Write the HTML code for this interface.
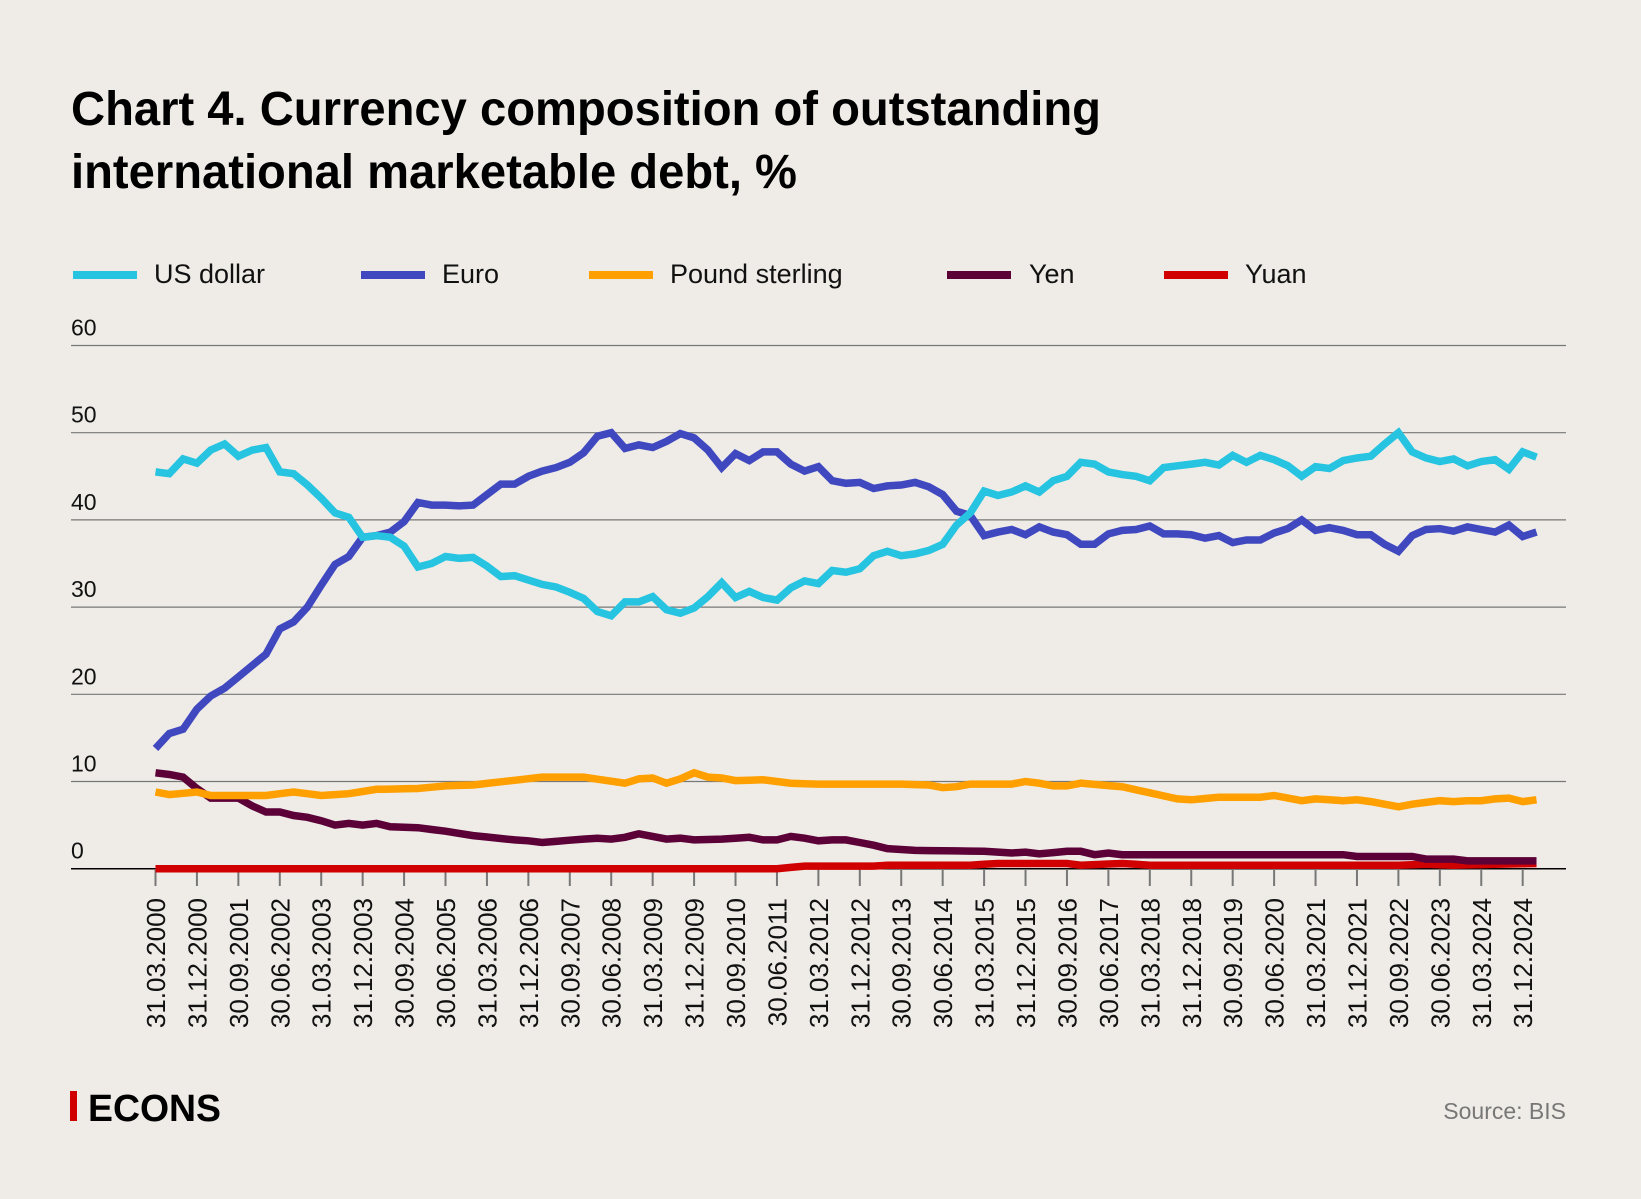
<!DOCTYPE html>
<html><head><meta charset="utf-8">
<style>
html,body{margin:0;padding:0;background:#efece7;}
svg{display:block;font-family:"Liberation Sans",sans-serif;}
</style></head>
<body>
<svg id="c" width="1641" height="1199" viewBox="0 0 1641 1199" xmlns="http://www.w3.org/2000/svg">
<rect width="1641" height="1199" fill="#efece7"/>
<text x="71" y="125" font-size="48" font-weight="bold" fill="#000" textLength="1030" lengthAdjust="spacingAndGlyphs">Chart 4. Currency composition of outstanding</text>
<text x="71" y="188" font-size="48" font-weight="bold" fill="#000" textLength="726" lengthAdjust="spacingAndGlyphs">international marketable debt, %</text>
<g font-size="27" fill="#111">
<rect x="73" y="271" width="64" height="8" fill="#26c4e0"/><text x="154" y="268" dy="15">US dollar</text>
<rect x="361" y="271" width="64" height="8" fill="#4048c0"/><text x="442" y="268" dy="15">Euro</text>
<rect x="589" y="271" width="64" height="8" fill="#ff9f00"/><text x="670" y="268" dy="15">Pound sterling</text>
<rect x="947" y="271" width="64" height="8" fill="#5c0038"/><text x="1029" y="268" dy="15">Yen</text>
<rect x="1164" y="271" width="64" height="8" fill="#d00000"/><text x="1245" y="268" dy="15">Yuan</text>
</g>
<g id="grid"></g>
<g id="series"></g>
<text x="1566" y="1119" font-size="23" fill="#777" text-anchor="end">Source: BIS</text>
<rect x="70" y="1091" width="7" height="30" fill="#d00000"/>
<text x="88" y="1121" font-size="38" font-weight="bold" fill="#000" textLength="133" lengthAdjust="spacingAndGlyphs">ECONS</text>
</svg>
<script>
var NS="http://www.w3.org/2000/svg";
function el(t,a,p,txt){var e=document.createElementNS(NS,t);for(var k in a)e.setAttribute(k,a[k]);if(txt!=null)e.textContent=txt;p.appendChild(e);return e;}
var g=document.getElementById('grid'),s=document.getElementById('series');
var y0=868.7,ys=8.72,x0=155.5,xs=13.81;
function X(i){return x0+i*xs;}function Y(v){return y0-v*ys;}
for(var v=0;v<=60;v+=10){
 el('line',{x1:71,x2:1566,y1:Y(v),y2:Y(v),stroke:v==0?'#000':'#777','stroke-width':v==0?1.5:1.2},g);
 el('text',{x:71,y:Y(v)-10,'font-size':23,fill:'#111'},g,String(v));
}
for(var t=0;t<34;t++){
 var i=t*3;var qq=i%4;var yy=2000+Math.floor(i/4);
 var d=["31.03.","30.06.","30.09.","31.12."][qq]+yy;
 var x=X(i);
 el('line',{x1:x,x2:x,y1:869,y2:886,stroke:'#777','stroke-width':2},g);
 el('text',{x:0,y:0,'font-size':26,fill:'#111','text-anchor':'end',transform:'translate('+(x+9.5)+',898) rotate(-90)'},g,d);
}
var usd=[45.5,45.3,47,46.5,48,48.7,47.3,48,48.3,45.5,45.3,44,42.5,40.8,40.3,38,38.2,38,37,34.6,35,35.8,35.6,35.7,34.7,33.5,33.6,33.1,32.6,32.3,31.7,31,29.5,29,30.6,30.6,31.2,29.7,29.3,29.9,31.2,32.8,31.1,31.8,31.1,30.8,32.2,33,32.7,34.2,34,34.4,35.9,36.4,35.9,36.1,36.5,37.2,39.4,40.8,43.3,42.8,43.2,43.9,43.2,44.5,45,46.6,46.4,45.5,45.2,45,44.5,46,46.2,46.4,46.6,46.3,47.4,46.6,47.4,46.9,46.2,45,46.1,45.9,46.8,47.1,47.3,48.7,50,47.8,47.1,46.7,47,46.2,46.7,46.9,45.8,47.8,47.2];
var eur=[13.8,15.5,16,18.3,19.8,20.7,22,23.3,24.6,27.5,28.3,30,32.5,34.9,35.8,38,38.2,38.6,39.8,42,41.7,41.7,41.6,41.7,42.9,44.1,44.1,45,45.6,46,46.6,47.7,49.6,50,48.2,48.6,48.3,49,49.9,49.4,48,46,47.6,46.8,47.8,47.8,46.4,45.6,46.1,44.5,44.2,44.3,43.6,43.9,44,44.3,43.8,42.9,41,40.5,38.2,38.6,38.9,38.3,39.2,38.6,38.3,37.2,37.2,38.4,38.8,38.9,39.3,38.4,38.4,38.3,37.9,38.2,37.4,37.7,37.7,38.5,39,40,38.8,39.1,38.8,38.3,38.3,37.2,36.4,38.2,38.9,39,38.7,39.2,38.9,38.6,39.4,38.1,38.6];
function interp(kp){var out=[];for(var i=0;i<=100;i++){for(var k=0;k<kp.length-1;k++){if(i>=kp[k][0]&&i<=kp[k+1][0]){var a=kp[k],b=kp[k+1];var f=(b[0]==a[0])?0:(i-a[0])/(b[0]-a[0]);out.push(a[1]+(b[1]-a[1])*f);break;}}}return out;}
var gbp=interp([[0,8.8],[1,8.5],[3,8.8],[4,8.4],[8,8.4],[10,8.8],[12,8.4],[14,8.6],[16,9.1],[19,9.2],[21,9.5],[23,9.6],[28,10.5],[31,10.5],[34,9.8],[35,10.3],[36,10.4],[37,9.8],[38,10.3],[39,11],[40,10.5],[41,10.4],[42,10.1],[44,10.2],[46,9.8],[48,9.7],[54,9.7],[56,9.6],[57,9.3],[58,9.4],[59,9.7],[62,9.7],[63,10.0],[64,9.8],[65,9.5],[66,9.5],[67,9.8],[70,9.4],[72,8.7],[74,8.0],[75,7.9],[77,8.2],[80,8.2],[81,8.4],[82,8.1],[84,8.0],[86,7.9],[88,7.8],[89,8.2],[90,7.7],[93,7.8],[94,8.0],[95,7.8],[96,7.9],[97,7.6],[98,7.2],[99,7.0],[100,7.5]]);
var gbpTail=[7.8,8.0,7.9,7.8,7.9,7.7,7.4,7.1,7.4,7.6,7.8,7.7,7.8,7.8,8.0,8.1,7.7,7.9];
for(var k=0;k<gbpTail.length;k++)gbp[100-gbpTail.length+1+k]=gbpTail[k];
var jpy=interp([[0,11],[1,10.8],[2,10.5],[3,9.2],[4,8.1],[6,8.1],[7,7.2],[8,6.5],[9,6.5],[10,6.1],[11,5.9],[12,5.5],[13,5.0],[14,5.2],[15,5.0],[16,5.2],[17,4.8],[19,4.7],[21,4.3],[23,3.8],[26,3.3],[27,3.2],[28,3.0],[31,3.4],[32,3.5],[33,3.4],[34,3.6],[35,4.0],[36,3.7],[37,3.4],[38,3.5],[39,3.3],[41,3.4],[43,3.6],[44,3.3],[45,3.3],[46,3.7],[47,3.5],[48,3.2],[49,3.3],[50,3.3],[52,2.7],[53,2.3],[55,2.1],[60,2.0],[62,1.8],[63,1.9],[64,1.7],[66,2.0],[67,2.0],[68,1.6],[69,1.8],[70,1.6],[86,1.6],[87,1.4],[91,1.4],[92,1.1],[94,1.1],[95,0.9],[100,0.9]]);
var cny=interp([[0,0],[45,0],[47,0.3],[52,0.3],[53,0.4],[59,0.4],[61,0.6],[66,0.6],[67,0.4],[70,0.6],[72,0.4],[90,0.4],[92,0.5],[94,0.4],[100,0.6]]);
function line(d,c,w){var p=d.map(function(v,i){return X(i).toFixed(1)+','+Y(v).toFixed(1);}).join(' ');el('polyline',{points:p,fill:'none',stroke:c,'stroke-width':w,'stroke-linejoin':'miter','stroke-linecap':'butt'},s);}
line(cny,'#d00000',7.5);
line(jpy,'#5c0038',7.5);
line(gbp,'#ff9f00',7.5);
line(eur,'#4048c0',7.5);
line(usd,'#26c4e0',7.5);
</script>
</body></html>
